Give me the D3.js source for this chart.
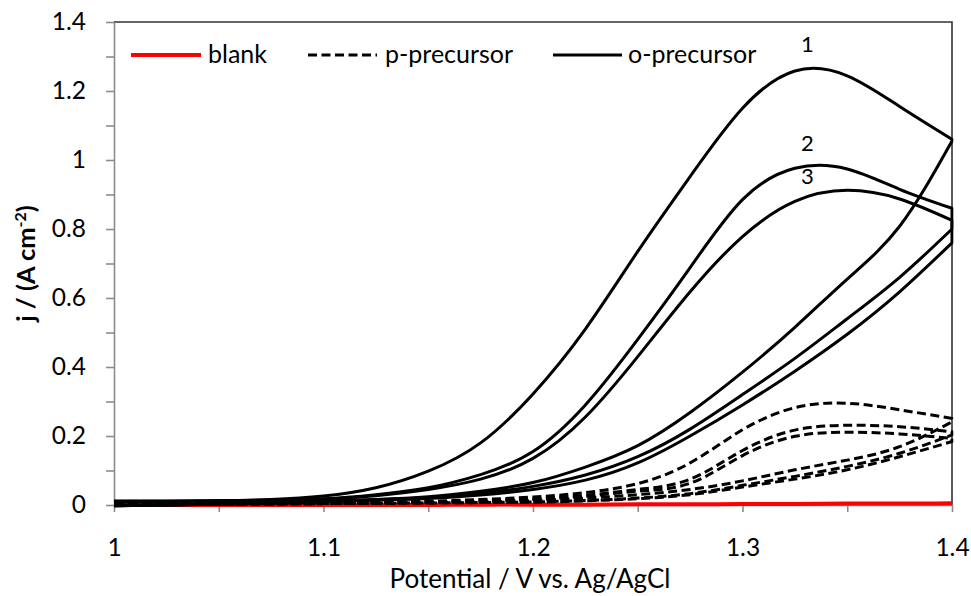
<!DOCTYPE html>
<html>
<head>
<meta charset="utf-8">
<script src="https://cdn.jsdelivr.net/npm/d3@7"></script>
<style>
  html, body { margin: 0; padding: 0; background: #fff; }
  svg { display: block; font-family: Lato, "Open Sans", sans-serif; }
</style>
</head>
<body>
<svg id="chart" width="971" height="596"></svg>
<script>
// ---------------- data ----------------
const potential = [1.000, 1.025, 1.050, 1.075, 1.100, 1.125, 1.150, 1.175, 1.200, 1.225, 1.250, 1.275, 1.300, 1.325, 1.350, 1.375, 1.400];

// o-precursor, three cycles (forward and reverse scans, values listed along potential ascending)
const oCycle1Forward = [0.011, 0.011, 0.012, 0.016, 0.026, 0.050, 0.098, 0.180, 0.322, 0.510, 0.735, 0.952, 1.150, 1.258, 1.244, 1.155, 1.060];
const oCycle1Reverse = [-0.002, 0.000, 0.003, 0.007, 0.011, 0.016, 0.024, 0.040, 0.065, 0.110, 0.172, 0.268, 0.385, 0.515, 0.655, 0.808, 1.055];
const oCycle2Forward = [0.011, 0.011, 0.012, 0.014, 0.018, 0.030, 0.050, 0.088, 0.155, 0.290, 0.480, 0.688, 0.885, 0.976, 0.974, 0.915, 0.860];
const oCycle2Reverse = [-0.002, 0.000, 0.003, 0.006, 0.010, 0.015, 0.022, 0.034, 0.054, 0.087, 0.140, 0.220, 0.320, 0.425, 0.540, 0.660, 0.800];
const oCycle3Forward = [0.011, 0.011, 0.012, 0.014, 0.017, 0.027, 0.045, 0.075, 0.135, 0.255, 0.430, 0.618, 0.778, 0.880, 0.912, 0.887, 0.825];
const oCycle3Reverse = [-0.002, 0.000, 0.003, 0.006, 0.010, 0.014, 0.019, 0.029, 0.045, 0.072, 0.122, 0.200, 0.290, 0.388, 0.495, 0.618, 0.760];

// p-precursor, three cycles
const pCycle1Forward = [0.003, 0.003, 0.004, 0.005, 0.006, 0.008, 0.011, 0.016, 0.023, 0.036, 0.062, 0.122, 0.218, 0.282, 0.295, 0.276, 0.251];
const pCycle1Reverse = [0.001, 0.001, 0.002, 0.003, 0.004, 0.005, 0.007, 0.009, 0.013, 0.020, 0.030, 0.045, 0.070, 0.102, 0.130, 0.169, 0.241];
const pCycle2Forward = [0.003, 0.003, 0.004, 0.005, 0.006, 0.007, 0.009, 0.012, 0.018, 0.028, 0.045, 0.075, 0.158, 0.217, 0.231, 0.227, 0.212];
const pCycle2Reverse = [0.001, 0.001, 0.002, 0.003, 0.004, 0.005, 0.006, 0.007, 0.009, 0.013, 0.020, 0.033, 0.057, 0.083, 0.112, 0.150, 0.203];
const pCycle3Forward = [0.003, 0.003, 0.004, 0.004, 0.005, 0.006, 0.008, 0.011, 0.016, 0.025, 0.040, 0.063, 0.143, 0.199, 0.211, 0.206, 0.193];
const pCycle3Reverse = [0.001, 0.001, 0.002, 0.003, 0.004, 0.005, 0.006, 0.007, 0.008, 0.012, 0.018, 0.030, 0.052, 0.075, 0.102, 0.140, 0.184];

// blank
const blankCurrent = [0.000, 0.000, 0.000, 0.000, 0.000, 0.000, 0.000, 0.001, 0.001, 0.001, 0.002, 0.002, 0.003, 0.003, 0.004, 0.004, 0.005];

// legend / labels
const legendNames = ["blank", "p-precursor", "o-precursor"];
const cycleLabels = ["1", "2", "3"];
const cycleLabelPotential = [1.331, 1.331, 1.331];
const cycleLabelCurrent = [1.337, 1.050, 0.955];

const xTickValues = [1.00, 1.05, 1.10, 1.15, 1.20, 1.25, 1.30, 1.35, 1.40];
const yTickValues = [0, 0.1, 0.2, 0.3, 0.4, 0.5, 0.6, 0.7, 0.8, 0.9, 1.0, 1.1, 1.2, 1.3, 1.4];
const xTitle = "Potential / V vs. Ag/AgCl";

// ---------------- layout ----------------
const svg = d3.select("#chart");
const L = 114, R = 952, T = 22, B = 505;
const FONT = 24.5;

const x = d3.scaleLinear().domain([1, 1.4]).range([L, R]);
const y = d3.scaleLinear().domain([0, 1.4]).range([B, T]);

const axisColor = "#8c8c8c";

// clip
svg.append("defs").append("clipPath").attr("id", "plotclip")
  .append("rect").attr("x", L - 2).attr("y", T - 2).attr("width", R - L + 3.6).attr("height", B - T + 8);

// plot border (top & right)
svg.append("path")
  .attr("d", `M${L},${T}H${R}V${B}`)
  .attr("fill", "none").attr("stroke", "#333").attr("stroke-width", 1.6);

// axes
const fmt1 = d => {
  const r = Math.round(d * 10) / 10;
  return Math.abs(d - r) < 1e-9 ? String(+r.toFixed(1)) : "";
};
const xAxis = d3.axisBottom(x).tickValues(xTickValues).tickSize(7).tickPadding(27).tickFormat(fmt1).tickSizeOuter(0);
const gx = svg.append("g").attr("transform", `translate(0,${B})`).call(xAxis);

const fmt2 = d => {
  const r = Math.round(d * 5) / 5;
  return Math.abs(d - r) < 1e-9 ? String(+r.toFixed(1)) : "";
};
const yAxis = d3.axisLeft(y).tickValues(yTickValues).tickSize(8).tickPadding(20).tickFormat(fmt2).tickSizeOuter(0);
const gy = svg.append("g").attr("transform", `translate(${L},0)`).call(yAxis);

[gx, gy].forEach(g => {
  g.select(".domain").attr("stroke", axisColor).attr("stroke-width", 1.6);
  g.selectAll(".tick line").attr("stroke", axisColor).attr("stroke-width", 1.6);
  g.selectAll(".tick text").attr("fill", "#000").style("font-size", FONT + "px").style("font-family", "Lato, sans-serif");
});

// ---------------- data lines ----------------
const plot = svg.append("g").attr("clip-path", "url(#plotclip)");
const line = d3.line().x(d => x(d[0])).y(d => y(d[1])).curve(d3.curveNatural);

const loopPath = (fwd, rev) => {
  const f = potential.map((v, i) => [v, fwd[i]]);
  const r = potential.map((v, i) => [v, rev[i]]).reverse();
  return line(f) + line(r).replace(/^M/, "L");
};

// blank (under)
plot.append("path")
  .attr("d", line(potential.map((v, i) => [v, blankCurrent[i]])))
  .attr("fill", "none").attr("stroke", "#ff0000").attr("stroke-width", 4);

const pLoops = [[pCycle1Forward, pCycle1Reverse], [pCycle2Forward, pCycle2Reverse], [pCycle3Forward, pCycle3Reverse]];
const oLoops = [[oCycle1Forward, oCycle1Reverse], [oCycle2Forward, oCycle2Reverse], [oCycle3Forward, oCycle3Reverse]];

pLoops.forEach(([f, r]) => {
  plot.append("path").attr("d", loopPath(f, r))
    .attr("fill", "none").attr("stroke", "#000").attr("stroke-width", 3)
    .attr("stroke-dasharray", "9,4.5").attr("stroke-linejoin", "round");
});
oLoops.forEach(([f, r]) => {
  plot.append("path").attr("d", loopPath(f, r))
    .attr("fill", "none").attr("stroke", "#000").attr("stroke-width", 3).attr("stroke-linejoin", "round");
});

// cycle labels
svg.selectAll("text.cyc").data(cycleLabels).join("text").attr("class", "cyc")
  .attr("x", (d, i) => x(cycleLabelPotential[i]))
  .attr("y", (d, i) => y(cycleLabelCurrent[i]))
  .attr("text-anchor", "middle").attr("dominant-baseline", "central")
  .style("font-size", "22px").text(d => d);

// ---------------- legend ----------------
const legendY = 55;
const legendItems = [
  { name: legendNames[0], x0: 131, x1: 201, tx: 208, color: "#ff0000", w: 4, dash: null },
  { name: legendNames[1], x0: 308, x1: 377, tx: 385, color: "#000", w: 3, dash: "9,4.5" },
  { name: legendNames[2], x0: 553, x1: 622, tx: 628, color: "#000", w: 3, dash: null }
];
const lg = svg.append("g");
legendItems.forEach(it => {
  lg.append("line").attr("x1", it.x0).attr("x2", it.x1).attr("y1", legendY).attr("y2", legendY)
    .attr("stroke", it.color).attr("stroke-width", it.w).attr("stroke-dasharray", it.dash);
  lg.append("text").attr("x", it.tx).attr("y", legendY + 8).style("font-size", "25px").text(it.name);
});

// ---------------- titles ----------------
svg.append("text").attr("x", (L + R) / 2 - 3).attr("y", 588).attr("text-anchor", "middle")
  .style("font-size", "26px").text(xTitle);

const yt = svg.append("text").attr("transform", `translate(35,${(T + B) / 2}) rotate(-90)`)
  .attr("text-anchor", "middle").style("font-size", "25.5px").style("font-weight", "bold");
yt.append("tspan").text("j / (A cm");
yt.append("tspan").attr("dy", -9).style("font-size", "16px").text("-2");
yt.append("tspan").attr("dy", 9).text(")");
</script>
</body>
</html>
